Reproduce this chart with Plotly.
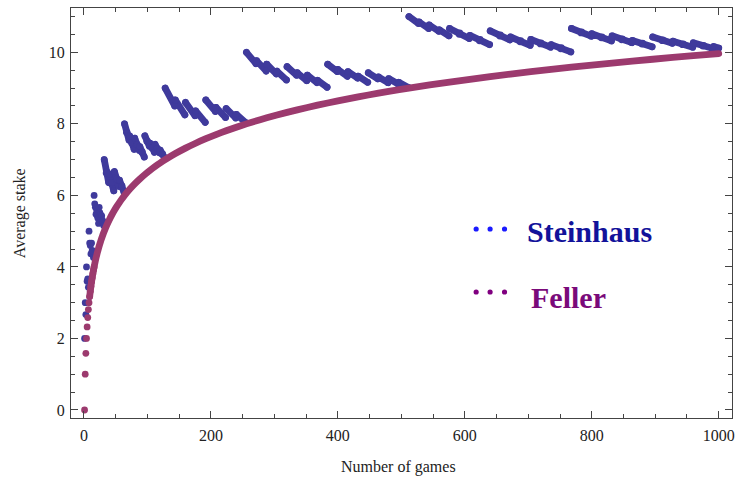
import plotly.graph_objects as go

# ---------------- data ----------------
# Steinhaus sequence: running average stake, first games (individual dots)
steinhaus_early_n = [1, 2, 3, 4, 5, 6, 7, 8, 9, 10, 11, 12, 13, 14, 15, 16,
                     17, 18, 19, 20, 21, 22, 23, 24, 25, 26, 27, 28, 29, 30, 31]
steinhaus_early_avg = [2.0, 3.0, 2.667, 4.0, 3.6, 3.667, 3.429, 5.0, 4.667, 4.6,
                       4.364, 4.667, 4.462, 4.429, 4.267, 6.0, 5.765, 5.667, 5.474,
                       5.6, 5.429, 5.364, 5.217, 5.667, 5.52, 5.462, 5.333, 5.429,
                       5.31, 5.267, 5.161]

# Steinhaus: later games (dense band, values at segment ends)
steinhaus_n = [32, 35, 36, 39, 40, 43, 44, 47, 48, 51, 52, 55, 56, 59, 60, 63,
               64, 67, 68, 71, 72, 75, 76, 79, 80, 83, 84, 87, 88, 91, 92, 95,
               96, 99, 100, 103, 104, 107, 108, 111, 112, 115, 116, 119, 120, 123, 124, 127,
               128, 143, 144, 159, 160, 175, 176, 191, 192, 207, 208, 223, 224, 239, 240, 255,
               256, 271, 272, 287, 288, 303, 304, 319, 320, 335, 336, 351, 352, 367, 368, 383,
               384, 399, 400, 415, 416, 431, 432, 447, 448, 463, 464, 479, 480, 495, 496, 511,
               512, 527, 528, 543, 544, 559, 560, 575, 576, 591, 592, 607, 608, 623, 624, 639,
               640, 655, 656, 671, 672, 687, 688, 703, 704, 719, 720, 735, 736, 751, 752, 767,
               768, 783, 784, 799, 800, 815, 816, 831, 832, 847, 848, 863, 864, 879, 880, 895,
               896, 911, 912, 927, 928, 943, 944, 959, 960, 975, 976, 991, 992, 1000]
steinhaus_avg = [7.0, 6.629, 6.667, 6.359, 6.6, 6.326, 6.364, 6.128, 6.667, 6.431, 6.462, 6.255, 6.429, 6.237, 6.267, 6.095,
                 8.0, 7.761, 7.765, 7.549, 7.667, 7.467, 7.474, 7.291, 7.6, 7.422, 7.429, 7.264, 7.364, 7.209, 7.217, 7.074,
                 7.667, 7.515, 7.52, 7.379, 7.462, 7.327, 7.333, 7.207, 7.429, 7.304, 7.31, 7.193, 7.267, 7.154, 7.161, 7.055,
                 9.0, 8.503, 8.667, 8.252, 8.6, 8.229, 8.364, 8.042, 8.667, 8.348, 8.462, 8.179, 8.429, 8.167, 8.267, 8.031,
                 10.0, 9.683, 9.765, 9.477, 9.667, 9.399, 9.474, 9.229, 9.6, 9.361, 9.429, 9.208, 9.364, 9.155, 9.217, 9.024,
                 9.667, 9.464, 9.52, 9.33, 9.462, 9.281, 9.333, 9.163, 9.429, 9.261, 9.31, 9.152, 9.267, 9.115, 9.161, 9.018,
                 11.0, 10.808, 10.848, 10.667, 10.765, 10.59, 10.629, 10.463, 10.667, 10.504, 10.541, 10.386, 10.474, 10.324, 10.359, 10.216,
                 10.6, 10.455, 10.488, 10.349, 10.429, 10.294, 10.326, 10.196, 10.364, 10.236, 10.267, 10.144, 10.217, 10.099, 10.128, 10.013,
                 10.667, 10.544, 10.571, 10.453, 10.52, 10.405, 10.431, 10.32, 10.462, 10.352, 10.377, 10.271, 10.333, 10.23, 10.255, 10.154,
                 10.429, 10.327, 10.351, 10.252, 10.31, 10.214, 10.237, 10.144, 10.267, 10.174, 10.197, 10.107, 10.161, 10.12]

# Feller: average stake curve
feller_n = [1, 2, 3, 4, 5, 6, 7, 8, 9, 10, 11, 12, 13, 14, 15, 16, 17, 18, 20, 22, 24,
            26, 28, 30, 32, 36, 40, 44, 48, 52, 56, 60, 64, 72, 80, 88, 96, 104, 112,
            120, 128, 144, 160, 176, 192, 208, 224, 240, 256, 288, 320, 352, 384, 416,
            448, 480, 512, 576, 640, 704, 768, 832, 896, 960, 1000]
feller_avg = [0.0, 1.0, 1.585, 2.0, 2.322, 2.585, 2.807, 3.0, 3.17, 3.322, 3.459, 3.585,
              3.7, 3.807, 3.907, 4.0, 4.087, 4.17, 4.322, 4.459, 4.585, 4.7, 4.807, 4.907,
              5.0, 5.17, 5.322, 5.459, 5.585, 5.7, 5.807, 5.907, 6.0, 6.17, 6.322, 6.459,
              6.585, 6.7, 6.807, 6.907, 7.0, 7.17, 7.322, 7.459, 7.585, 7.7, 7.807, 7.907,
              8.0, 8.17, 8.322, 8.459, 8.585, 8.7, 8.807, 8.907, 9.0, 9.17, 9.322, 9.459,
              9.585, 9.7, 9.807, 9.907, 9.966]

series_names = ["Steinhaus", "Feller"]
x_ticks = [0, 200, 400, 600, 800, 1000]
y_ticks = [0, 2, 4, 6, 8, 10]

# ---------------- styling ----------------
C_STEIN = "#3f3a9c"
C_FELLER = "#9c3a6e"
DOT = 6.8
SERIF = "'Liberation Serif', 'Times New Roman', Times, serif"


def with_breaks(xs, ys, thr=0.195):
    bx, by = [xs[0]], [ys[0]]
    for i in range(1, len(xs)):
        if ys[i] - ys[i - 1] > thr:
            bx.append(None)
            by.append(None)
        bx.append(xs[i])
        by.append(ys[i])
    return bx, by


sx, sy = with_breaks(steinhaus_n, steinhaus_avg)
f_dot_x = [n for n in feller_n if n <= 16]
f_dot_y = [v for n, v in zip(feller_n, feller_avg) if n <= 16]
f_line_x = [n for n in feller_n if n >= 9]
f_line_y = [v for n, v in zip(feller_n, feller_avg) if n >= 9]

fig = go.Figure()
fig.add_trace(go.Scatter(x=steinhaus_early_n, y=steinhaus_early_avg, mode="markers",
                         marker=dict(size=DOT, color=C_STEIN, line=dict(width=0)),
                         showlegend=False, hoverinfo="skip"))
fig.add_trace(go.Scatter(x=sx, y=sy, mode="lines+markers", connectgaps=False,
                         line=dict(color=C_STEIN, width=DOT),
                         marker=dict(size=DOT, color=C_STEIN, line=dict(width=0)),
                         showlegend=False, hoverinfo="skip"))
fig.add_trace(go.Scatter(x=f_dot_x, y=f_dot_y, mode="markers",
                         marker=dict(size=DOT, color=C_FELLER, line=dict(width=0)),
                         showlegend=False, hoverinfo="skip"))
fig.add_trace(go.Scatter(x=f_line_x, y=f_line_y, mode="lines",
                         line=dict(color=C_FELLER, width=DOT, shape="spline", smoothing=0.6),
                         showlegend=False, hoverinfo="skip"))

axis_common = dict(showgrid=False, zeroline=False, showline=True, linecolor="#444",
                   linewidth=1, mirror="allticks", ticks="inside", tickcolor="#444",
                   tickwidth=1, ticklen=7,
                   tickfont=dict(family=SERIF, size=16, color="#222"))

fig.update_xaxes(range=[-20.4, 1020.9], tickvals=x_ticks,
                 ticktext=[str(t) for t in x_ticks],
                 minor=dict(dtick=50, tick0=0, ticks="inside", ticklen=4,
                            tickcolor="#444", showgrid=False),
                 ticklabelstandoff=3, **axis_common)
fig.update_yaxes(range=[-0.224, 11.24], tickvals=y_ticks,
                 ticktext=[str(t) for t in y_ticks],
                 minor=dict(dtick=0.5, tick0=0, ticks="inside", ticklen=4,
                            tickcolor="#444", showgrid=False),
                 ticklabelstandoff=2, **axis_common)

# legend drawn inside the plot: three dots + bold label per series
PW, PH, L, B = 664.0, 410.0, 71.0, 418.0
legend_rows = [(229.0, "#1a1aff", "#12129a", 527.0, 231.0),
               (292.0, "#800080", "#7a0a7a", 531.0, 297.0)]
shapes = []
annotations = []
for name, (dot_y, dot_c, txt_c, tx, ty) in zip(series_names, legend_rows):
    for dx in (478.0, 492.0, 506.5):
        shapes.append(dict(type="circle", xref="paper", yref="paper",
                           x0=(dx - 2.6 - L) / PW, x1=(dx + 2.6 - L) / PW,
                           y0=(B - dot_y - 2.6) / PH, y1=(B - dot_y + 2.6) / PH,
                           fillcolor=dot_c, line=dict(width=0)))
    annotations.append(dict(text="<b>%s</b>" % name, xref="paper", yref="paper",
                            x=(tx - L) / PW, y=(B - ty) / PH, xanchor="left",
                            yanchor="middle", showarrow=False,
                            font=dict(family=SERIF, size=30, color=txt_c)))

annotations.append(dict(text="Number of games", xref="paper", yref="paper",
                        x=(400 - L) / PW, y=(B - 467) / PH, xanchor="center",
                        yanchor="middle", showarrow=False,
                        font=dict(family=SERIF, size=16, color="#222")))
annotations.append(dict(text="Average stake", xref="paper", yref="paper",
                        x=(20 - L) / PW, y=(B - 213) / PH, xanchor="center",
                        yanchor="middle", showarrow=False, textangle=-90,
                        font=dict(family=SERIF, size=16, color="#222")))

fig.update_layout(width=739, height=483, margin=dict(l=71, r=4, t=8, b=65),
                  paper_bgcolor="white", plot_bgcolor="white",
                  shapes=shapes, annotations=annotations, showlegend=False)

post = """
document.querySelectorAll('.scatterlayer path.js-line').forEach(function(p){
  p.style.strokeLinejoin='round'; p.style.strokeLinecap='round';
});
"""
fig.write_html("out.html", post_script=post)
